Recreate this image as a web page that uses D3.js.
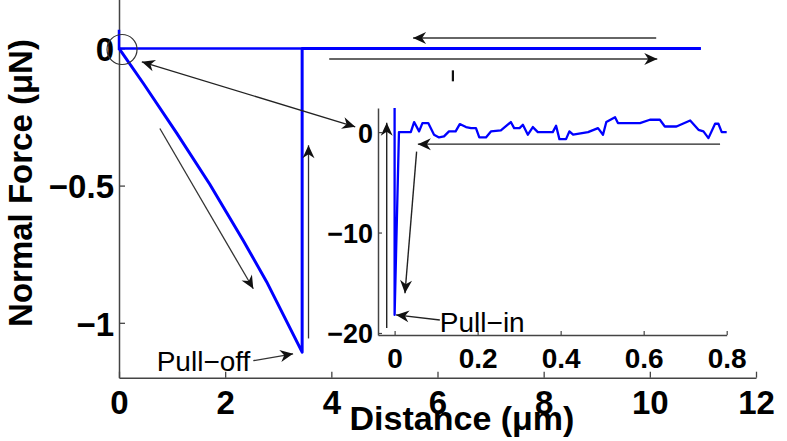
<!DOCTYPE html>
<html lang="en">
<head>
<meta charset="utf-8">
<title>force curve</title>
<style>
  body { margin: 0; background: #fff; }
  text { font-family: "Liberation Sans", Arial, sans-serif; }
</style>
</head>
<body>
<script src="https://cdn.jsdelivr.net/npm/d3@7"></script>
<script>

// main curve (distance in um, force in uN)
var approachX = [10.96, 0, 0];
var approachY = [0, 0, 0.068];
var retractX = [0, 0.46, 1.09, 1.71, 2.34, 2.78, 3.45, 3.45, 10.96];
var retractY = [0, -0.128, -0.310, -0.495, -0.700, -0.850, -1.107, 0, 0];

// inset curve (distance in um, force in nN)
var insetX = [0, 0, 0.0105, 0.039, 0.047, 0.059, 0.067, 0.081, 0.095, 0.107, 0.119, 0.131, 0.147, 0.157, 0.172, 0.184, 0.196, 0.204, 0.220, 0.232, 0.256, 0.280, 0.288, 0.301, 0.309, 0.321, 0.333, 0.345, 0.381, 0.389, 0.397, 0.413, 0.421, 0.430, 0.466, 0.490, 0.502, 0.510, 0.531, 0.538, 0.591, 0.615, 0.639, 0.651, 0.679, 0.712, 0.732, 0.744, 0.756, 0.772, 0.780, 0.788, 0.800];
var insetY = [2.4, -18.2, 0, 0, 1.0, 0.07, 0.9, 0.9, -0.26, -0.53, -0.43, 0.07, 0.07, 0.8, 0.5, 0.4, 0.4, -0.53, -0.53, 0.07, 0.17, 1.0, 0.4, 0.4, 0.73, -0.26, 0.5, 0, 0, 0.63, -0.7, -0.7, 0.07, -0.26, 0, 0.4, -0.26, 1.0, 1.49, 0.9, 0.9, 1.23, 1.23, 0.56, 0.56, 1.16, 0.23, 0.07, -0.6, 0.83, 0.83, 0, 0];

// ticks
var xTicks = [0, 2, 4, 6, 8, 10, 12];
var yTicks = [-1, -0.5, 0];
var insetXTicks = [0, 0.2, 0.4, 0.6, 0.8];
var insetYTicks = [-20, -10, 0];

// annotation arrows [x1, y1, x2, y2] in data units, head at (x2, y2)
var mainArrows = [[10.12, 0.0376, 5.54, 0.0376], [3.96, -0.039, 10.14, -0.039]];
var thinArrows = [[0.77, -0.292, 2.53, -0.876], [3.57, -1.057, 3.57, -0.353], [2.53, -1.138, 3.28, -1.113]];
var linkArrow = [0.43, -0.049, 4.45, -0.286];
var insetArrows = [[-0.019, -19.5, -0.019, 0.92], [0.784, -1.2, 0.056, -1.2], [0.053, -1.94, 0.025, -16.05], [0.109, -18.7, 0.0034, -18.2]];

var W = 787, H = 441;
var svg = d3.select("body").append("svg")
  .attr("width", W)
  .attr("height", H)
  .style("background", "#fff");

var x = d3.scaleLinear().domain([0, 12]).range([119, 756]);
var y = d3.scaleLinear().domain([-1.2, 0.2]).range([377.7, -6.5]);

var xi = d3.scaleLinear().domain([-0.04, 0.8]).range([378, 726.7]);
var yi = d3.scaleLinear().domain([-20.2, 2.4]).range([335, 108]);

var fmt = d3.format("~g");
var axisColor = "#444";

// markers
var defs = svg.append("defs");
defs.append("marker")
  .attr("id", "head")
  .attr("viewBox", "-14 -7 16 14")
  .attr("markerWidth", 16).attr("markerHeight", 14)
  .attr("markerUnits", "userSpaceOnUse")
  .attr("refX", 0).attr("refY", 0)
  .attr("orient", "auto")
  .append("path")
  .attr("d", "M0,0 L-13,-6 L-9,0 L-13,6 Z")
  .attr("fill", "#111");
defs.append("marker")
  .attr("id", "headStart")
  .attr("viewBox", "-2 -7 16 14")
  .attr("markerWidth", 16).attr("markerHeight", 14)
  .attr("markerUnits", "userSpaceOnUse")
  .attr("refX", 0).attr("refY", 0)
  .attr("orient", "auto")
  .append("path")
  .attr("d", "M0,0 L13,-6 L9,0 L13,6 Z")
  .attr("fill", "#111");

// main axes
var gx = svg.append("g")
  .attr("transform", "translate(0," + y(-1.2) + ")")
  .call(d3.axisBottom(x).tickValues(xTicks).tickFormat(fmt).tickSizeInner(-6).tickSizeOuter(0));
gx.selectAll("text").attr("y", 36).attr("dy", null)
  .style("font-size", "33px").style("font-weight", "bold").attr("fill", "#000");

var gy = svg.append("g")
  .attr("transform", "translate(" + x(0) + ",0)")
  .call(d3.axisLeft(y).tickValues(yTicks).tickFormat(fmt).tickSizeInner(-6).tickSizeOuter(0));
gy.selectAll("text").attr("x", -5).attr("dy", "0.37em")
  .style("font-size", "33px").style("font-weight", "bold").attr("fill", "#000");

[gx, gy].forEach(function(g) {
  g.select(".domain").attr("stroke", axisColor).attr("stroke-width", 1.5);
  g.selectAll(".tick line").attr("stroke", axisColor).attr("stroke-width", 1.3);
});

// main curves
var mainLine = d3.line().x(function(d) { return x(d[0]); }).y(function(d) { return y(d[1]); });
svg.append("path")
  .datum(approachX.map(function(v, i) { return [v, approachY[i]]; }))
  .attr("d", mainLine)
  .attr("fill", "none").attr("stroke", "#0000ff").attr("stroke-width", 2.5);
svg.append("path")
  .datum(retractX.map(function(v, i) { return [v, retractY[i]]; }))
  .attr("d", mainLine)
  .attr("fill", "none").attr("stroke", "#0000ff").attr("stroke-width", 3)
  .attr("stroke-linejoin", "round");

// circle at origin
svg.append("circle")
  .attr("cx", x(0.057)).attr("cy", y(-0.004)).attr("r", 15)
  .attr("fill", "none").attr("stroke", "#333").attr("stroke-width", 1.2);

// arrows on main plot
svg.selectAll(".topArrow").data(mainArrows).enter().append("line")
  .attr("x1", function(d) { return x(d[0]); }).attr("y1", function(d) { return y(d[1]); })
  .attr("x2", function(d) { return x(d[2]); }).attr("y2", function(d) { return y(d[3]); })
  .attr("stroke", "#666").attr("stroke-width", 2)
  .attr("marker-end", "url(#head)");

svg.selectAll(".thinArrow").data(thinArrows).enter().append("line")
  .attr("x1", function(d) { return x(d[0]); }).attr("y1", function(d) { return y(d[1]); })
  .attr("x2", function(d) { return x(d[2]); }).attr("y2", function(d) { return y(d[3]); })
  .attr("stroke", "#333").attr("stroke-width", 1.3)
  .attr("marker-end", "url(#head)");

svg.append("line")
  .attr("x1", x(linkArrow[0])).attr("y1", y(linkArrow[1]))
  .attr("x2", x(linkArrow[2])).attr("y2", y(linkArrow[3]))
  .attr("stroke", "#222").attr("stroke-width", 1.3)
  .attr("marker-start", "url(#headStart)")
  .attr("marker-end", "url(#head)");

// small stray mark
svg.append("line")
  .attr("x1", x(6.29)).attr("y1", y(-0.08))
  .attr("x2", x(6.29)).attr("y2", y(-0.12))
  .attr("stroke", "#111").attr("stroke-width", 2.2);

svg.append("text")
  .attr("x", x(0.71)).attr("y", y(-1.177))
  .style("font-size", "28px")
  .text("Pull\u2212off");

// inset axes
var gxi = svg.append("g")
  .attr("transform", "translate(0," + yi(-20.2) + ")")
  .call(d3.axisBottom(xi).tickValues(insetXTicks).tickFormat(fmt).tickSizeInner(-4).tickSizeOuter(0));
gxi.selectAll("text").attr("y", 33).attr("dy", null)
  .style("font-size", "28px").style("font-weight", "bold").attr("fill", "#000");

var gyi = svg.append("g")
  .attr("transform", "translate(" + xi(-0.04) + ",0)")
  .call(d3.axisLeft(yi).tickValues(insetYTicks).tickFormat(fmt).tickSizeInner(-4).tickSizeOuter(0));
gyi.selectAll("text").attr("x", -5).attr("dy", "0.37em")
  .style("font-size", "27px").style("font-weight", "bold").attr("fill", "#000");

[gxi, gyi].forEach(function(g) {
  g.select(".domain").attr("stroke", axisColor).attr("stroke-width", 1.5);
  g.selectAll(".tick line").attr("stroke", axisColor).attr("stroke-width", 1.2);
});

// inset curve
var insetLine = d3.line().x(function(d) { return xi(d[0]); }).y(function(d) { return yi(d[1]); });
svg.append("path")
  .datum(insetX.map(function(v, i) { return [v, insetY[i]]; }))
  .attr("d", insetLine)
  .attr("fill", "none").attr("stroke", "#0000ff").attr("stroke-width", 2.3)
  .attr("stroke-linejoin", "round");

svg.selectAll(".insetArrow").data(insetArrows).enter().append("line")
  .attr("x1", function(d) { return xi(d[0]); }).attr("y1", function(d) { return yi(d[1]); })
  .attr("x2", function(d) { return xi(d[2]); }).attr("y2", function(d) { return yi(d[3]); })
  .attr("stroke", "#222").attr("stroke-width", 1.4)
  .attr("marker-end", "url(#head)");

svg.append("text")
  .attr("x", xi(0.109)).attr("y", yi(-19.87))
  .style("font-size", "28px")
  .text("Pull\u2212in");

// axis labels
svg.append("text")
  .attr("x", 462).attr("y", 430)
  .attr("text-anchor", "middle")
  .style("font-size", "34px").style("font-weight", "bold")
  .text("Distance (\u03bcm)");

svg.append("text")
  .attr("transform", "translate(31.5,183) rotate(-90)")
  .attr("text-anchor", "middle")
  .style("font-size", "33px").style("font-weight", "bold")
  .text("Normal Force (\u03bcN)");

</script>
</body>
</html>
